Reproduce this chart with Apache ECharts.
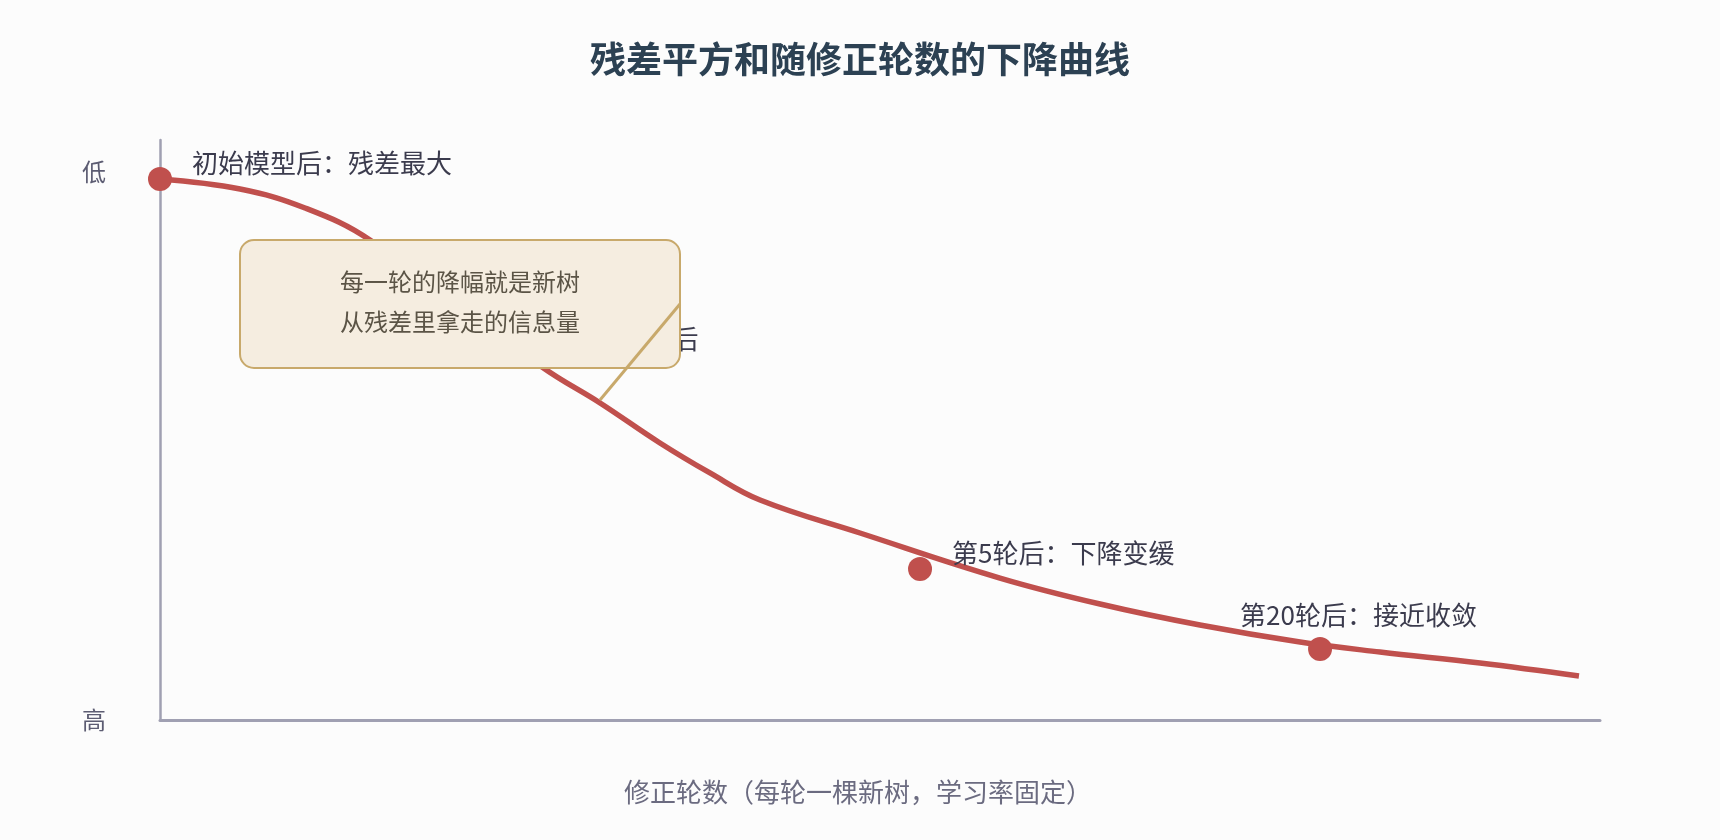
<!DOCTYPE html>
<html>
<head>
<meta charset="utf-8">
<script src="https://cdn.jsdelivr.net/npm/echarts@6/dist/echarts.min.js"></script>
<style>
html,body{margin:0;padding:0;background:#fcfcfc;}
#c{width:1720px;height:840px;}
</style>
</head>
<body>
<div id="c"></div>
<script>
// ---- data ----
const titleText = '残差平方和随修正轮数的下降曲线';
const xAxisName = '修正轮数（每轮一棵新树，学习率固定）';
const yLowLabel = '低';
const yHighLabel = '高';
const yLowValue = 94.5;

// curve (abstract units)
const curveX = [0, 5.56, 10.07, 14.58, 26.53, 30.56, 34.72, 38.19, 41.67, 48.61, 58.33, 65.28, 72.22, 79.17, 84.72, 91.67, 98.54];
const curveY = [93.28, 91.55, 88.28, 82.76, 60.86, 54.66, 47.76, 42.59, 37.93, 32.24, 24.48, 20.0, 16.38, 13.45, 11.72, 9.83, 7.59];

// highlighted checkpoints
const pointX = [0, 28.75, 52.78, 80.56];
const pointY = [93.28, 62.93, 26.03, 12.24];
const pointLabels = ['初始模型后：残差最大', '第1轮后', '第5轮后：下降变缓', '第20轮后：接近收敛'];

const noteLines = ['每一轮的降幅就是新树', '从残差里拿走的信息量'];

// ---- chart ----
const chart = echarts.init(document.getElementById('c'), null, {renderer: 'canvas'});
const FONT = '"Noto Sans CJK SC","Noto Sans",sans-serif';

const curveData = curveX.map((x, i) => [x, curveY[i]]);
const labelOffsets = [[0, -16], [0, -16], [0, -16], [-112, -34]];
const pointData = pointX.map((x, i) => ({
  value: [x, pointY[i]],
  label: {offset: labelOffsets[i]}
}));

chart.setOption({
  backgroundColor: '#fcfcfc',
  animation: false,
  title: {
    text: titleText,
    left: 'center',
    top: 36,
    textStyle: {fontFamily: FONT, fontSize: 36, fontWeight: 'bold', color: '#2c4153'}
  },
  grid: {left: 160, right: 120, top: 140, bottom: 120, containLabel: false},
  xAxis: {
    type: 'value', min: 0, max: 100,
    name: xAxisName, nameLocation: 'middle', nameGap: 59,
    nameTextStyle: {fontFamily: FONT, fontSize: 26, color: '#6b6b80', padding: [0, 44, 0, 0]},
    axisLine: {show: true, lineStyle: {color: '#a0a0b2', width: 3}},
    axisTick: {show: false}, axisLabel: {show: false}, splitLine: {show: false}
  },
  yAxis: {
    type: 'value', min: 0, max: 100, interval: yLowValue,
    axisLine: {show: true, lineStyle: {color: '#a0a0b2', width: 2.5}},
    axisTick: {show: false}, splitLine: {show: false},
    axisLabel: {
      fontFamily: FONT, fontSize: 24, color: '#5c5c72', margin: 54,
      formatter: v => Math.abs(v - yLowValue) < 0.01 ? yLowLabel : (v === 0 ? yHighLabel : '')
    }
  },
  series: [
    {
      type: 'line', data: curveData, smooth: 0.4,
      symbol: 'none', lineStyle: {color: '#c0504d', width: 5.5}, z: 2
    },
    {
      type: 'scatter', data: pointData, symbolSize: 24,
      itemStyle: {color: '#c0504d', opacity: 1}, z: 3,
      label: {
        show: true, position: 'right', distance: 20,
        formatter: p => pointLabels[p.dataIndex],
        fontFamily: FONT, fontSize: 26, color: '#3b3b4d'
      }
    }
  ],
  graphic: [
    {
      type: 'rect', z: 100,
      shape: {x: 240, y: 240, width: 440, height: 128, r: 14},
      style: {fill: '#f5ede0', stroke: '#c8a96b', lineWidth: 2}
    },
    {
      type: 'text', z: 101, x: 460, y: 302,
      style: {
        text: noteLines.join('\n'), fontFamily: FONT, fontSize: 24, lineHeight: 40,
        fill: '#5b5446', align: 'center', verticalAlign: 'middle'
      }
    },
    {
      type: 'line', z: 102,
      shape: {x1: 680, y1: 304, x2: 600, y2: 400},
      style: {stroke: '#c8a96b', lineWidth: 3}
    }
  ]
});
</script>
</body>
</html>
